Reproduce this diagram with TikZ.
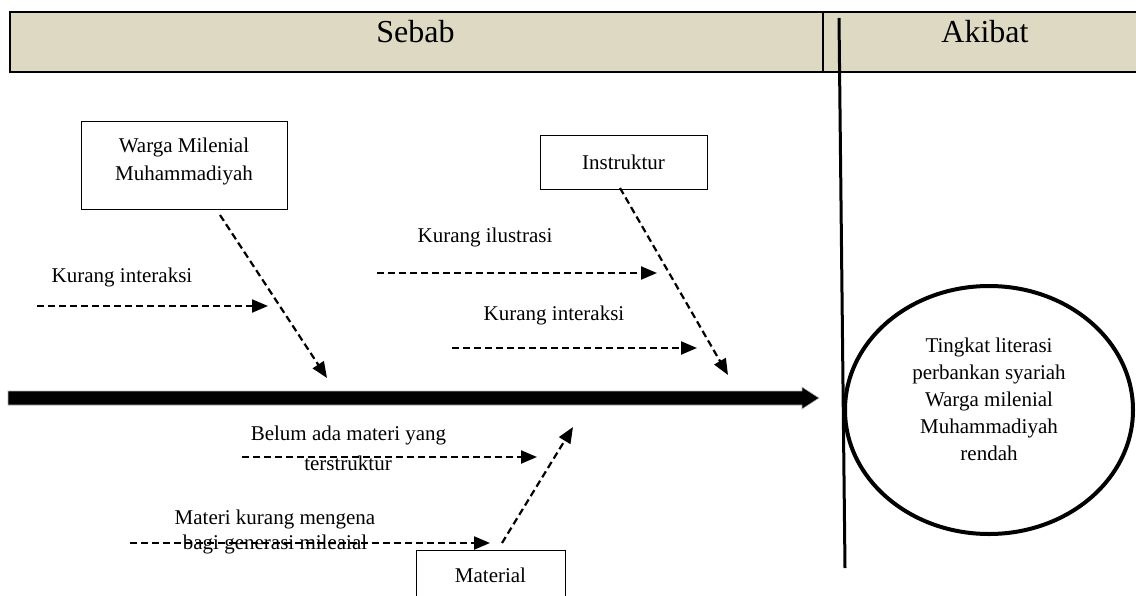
\documentclass[tikz,border=0pt]{standalone}
\usepackage{fontspec}
\setmainfont{Liberation Serif}
\usetikzlibrary{arrows.meta,shapes.geometric}
\definecolor{headfill}{HTML}{DDD9C3}
\tikzset{
  txt/.style={font=\fontsize{21}{27}\selectfont, inner sep=0pt, anchor=base},
  headtxt/.style={font=\fontsize{32}{36}\selectfont, inner sep=0pt, anchor=base},
  causebox/.style={draw=black, line width=1pt, fill=white, inner sep=0pt, align=center,
    font=\fontsize{21}{28}\selectfont},
  darrow/.style={draw=black, line width=2.2pt, dash pattern=on 7pt off 4pt,
    -{Triangle[length=16pt,width=13pt]}},
}
\begin{document}
\begin{tikzpicture}[x=1pt,y=-1pt]
\useasboundingbox (0,0) rectangle (1136,595);
% header
\draw[line width=2.5pt, fill=headfill] (10,12) rectangle (1145,72);
\draw[line width=1.2pt] (823,12) -- (823,72);
\node[headtxt] (sebab) at (415.5,42) {Sebab};
\node[headtxt] (akibat) at (985,42) {Akibat};
% divider line
\draw[line width=3pt] (839,18) -- (845,568);
% spine
\fill[black, draw=gray!60, line width=0.6pt] (8,391) -- (802,391) -- (802,387) -- (819,398) -- (802,409) -- (802,405) -- (8,405) -- cycle;
% effect
\node[ellipse, draw=black, line width=4pt, minimum width=288pt, minimum height=248pt] (effect) at (989,410) {};
\node[align=center, font=\fontsize{21}{27}\selectfont, inner sep=0pt] (efftext) at (989,399)
  {Tingkat literasi\\perbankan syariah\\Warga milenial\\Muhammadiyah\\rendah};
% cause boxes
\node[causebox, minimum width=206pt, minimum height=88pt] (warga) at (184,165) {};
\node[align=center, font=\fontsize{21}{28}\selectfont, inner sep=0pt] (wargatext) at (184,161)
  {Warga Milenial\\Muhammadiyah};
\node[causebox, minimum width=167pt, minimum height=54pt] (instr) at (623.5,162) {Instruktur};
\node[causebox, minimum width=149pt, minimum height=50pt, anchor=north] (mat) at (490.5,550) {Material};
% labels
\node[txt] (l1) at (122,282) {Kurang interaksi};
\node[txt] (l2) at (485,242) {Kurang ilustrasi};
\node[txt] (l3) at (554,320) {Kurang interaksi};
\node[txt] (l4a) at (348.5,440) {Belum ada materi yang};
\node[txt] (l4b) at (348,470) {terstruktur};
\node[txt] (l5a) at (275,524) {Materi kurang mengena};
\node[txt] (l5b) at (275,549) {bagi generasi mileaial};
% arrow coordinates
\coordinate (w1) at (220,215); \coordinate (w2) at (327,378);
\coordinate (a1s) at (37,306); \coordinate (a1e) at (268,306);
\coordinate (i1) at (620,188); \coordinate (i2) at (728,375);
\coordinate (a2s) at (377,273); \coordinate (a2e) at (657,273);
\coordinate (a3s) at (452,348); \coordinate (a3e) at (697,348);
\coordinate (a4s) at (242,457); \coordinate (a4e) at (537,457);
\coordinate (a5s) at (130,543); \coordinate (a5e) at (490,543);
\coordinate (m1) at (502,543); \coordinate (m2) at (573,427);
\draw[darrow] (w1) -- (w2);
\draw[darrow] (a1s) -- (a1e);
\draw[darrow] (i1) -- (i2);
\draw[darrow] (a2s) -- (a2e);
\draw[darrow] (a3s) -- (a3e);
\draw[darrow] (a4s) -- (a4e);
\draw[darrow] (a5s) -- (a5e);
\draw[darrow] (m1) -- (m2);
\end{tikzpicture}
\end{document}
